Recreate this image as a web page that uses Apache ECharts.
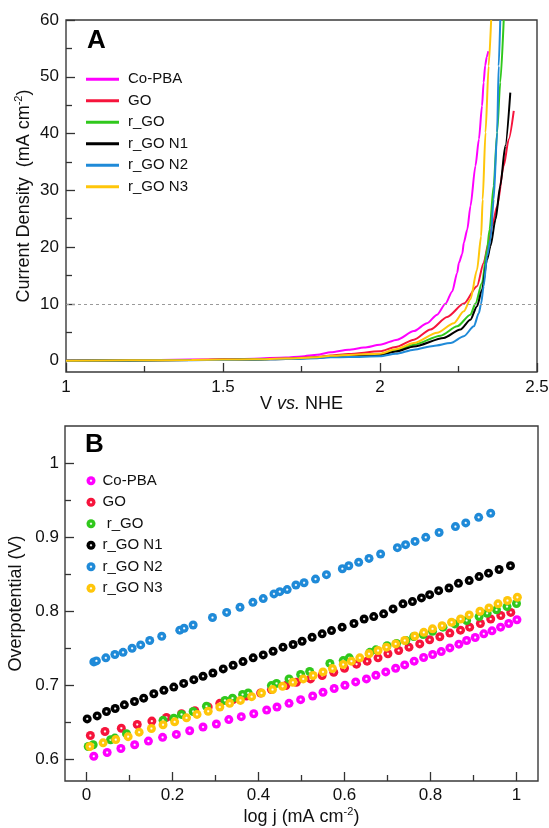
<!DOCTYPE html>
<html>
<head>
<meta charset="utf-8">
<script src="https://cdn.jsdelivr.net/npm/echarts@6/dist/echarts.min.js"></script>
<style>html,body{margin:0;padding:0;background:#fff}#c{width:549px;height:828px}</style>
</head>
<body>
<div id="c"></div>
<script>
// ---------- Panel A : LSV curves (V vs. NHE, mA cm-2) ----------
const vCoPBA = [1.0,1.2,1.4,1.5,1.6,1.7,1.75,1.8,1.843,1.9,1.949,2.0,2.055,2.108,2.15,2.182,2.209,2.23,2.246,2.251,2.262,2.267,2.278,2.288,2.304,2.315,2.325,2.33,2.335,2.34,2.345];
const jCoPBA = [0,0.08,0.18,0.25,0.35,0.55,0.75,1.05,1.47,1.9,2.3,2.8,3.7,5.2,6.6,8.1,10.05,12.2,15.5,17.2,18.8,20.8,23.1,27.2,34.3,39,44.9,49,52,53.5,54.5];
const vGO = [1.0,1.2,1.4,1.5,1.6,1.7,1.8,1.843,1.9,2.0,2.05,2.108,2.161,2.214,2.267,2.309,2.33,2.346,2.357,2.373,2.394,2.41,2.426];
const jGO = [0,0.05,0.12,0.18,0.25,0.38,0.65,0.9,1.15,1.64,2.4,3.7,5.5,7.7,10.05,13.1,17.2,20.8,23.7,27.2,34.3,39,44];
const vRGO = [1.0,1.2,1.4,1.5,1.6,1.7,1.8,1.843,1.9,2.0,2.05,2.108,2.193,2.246,2.288,2.304,2.325,2.341,2.349,2.362,2.373,2.383,2.394];
const jRGO = [0,0.04,0.1,0.15,0.22,0.33,0.55,0.8,0.95,1.1,1.8,2.8,4.4,6.05,8.1,10.05,13.7,19.6,23.1,30.8,40.2,49,60];
const vN1 = [1.0,1.2,1.4,1.5,1.6,1.7,1.8,1.843,1.9,2.0,2.05,2.108,2.203,2.256,2.288,2.309,2.325,2.341,2.352,2.368,2.383,2.399,2.415];
const jN1 = [0,0.04,0.1,0.15,0.2,0.3,0.5,0.72,0.85,1.0,1.6,2.5,4.0,5.5,7.2,9.6,12.5,17.8,20.2,24.9,30.8,37.8,47.2];
const vN2 = [1.0,1.2,1.4,1.5,1.6,1.7,1.8,1.843,1.9,2.0,2.05,2.108,2.17,2.225,2.267,2.299,2.315,2.322,2.33,2.341,2.352,2.362,2.373,2.378,2.383];
const jN2 = [0,0.03,0.08,0.12,0.18,0.27,0.42,0.58,0.65,0.76,1.2,1.94,2.6,3.1,4.3,6.05,8.4,10.05,13.1,18.4,21.4,28.4,40.2,51.9,60];
const vN3 = [1.0,1.2,1.4,1.5,1.6,1.7,1.8,1.843,1.9,2.0,2.05,2.108,2.182,2.235,2.267,2.288,2.309,2.322,2.327,2.336,2.346,2.354];
const jN3 = [0,0.05,0.12,0.18,0.25,0.36,0.6,0.85,1.0,1.23,2.0,3.1,4.9,6.6,8.7,10.8,16,21.9,28.4,40.2,51.9,60];

// ---------- Panel B : Tafel points (log j, overpotential V) ----------
const ljCoPBA = [0.017,0.048,0.080,0.112,0.144,0.177,0.209,0.240,0.271,0.302,0.331,0.360,0.389,0.419,0.443,0.471,0.498,0.526,0.550,0.576,0.601,0.626,0.651,0.673,0.696,0.719,0.740,0.762,0.784,0.805,0.825,0.845,0.866,0.884,0.904,0.924,0.943,0.963,0.982,1.001];
const etaCoPBA = [0.6035,0.6085,0.614,0.619,0.624,0.629,0.633,0.638,0.643,0.647,0.653,0.657,0.661,0.666,0.670,0.675,0.680,0.685,0.690,0.695,0.6995,0.704,0.708,0.713,0.7175,0.7225,0.727,0.732,0.737,0.741,0.745,0.750,0.755,0.760,0.764,0.769,0.773,0.778,0.783,0.788];
const ljGO = [0.009,0.043,0.081,0.118,0.152,0.186,0.221,0.252,0.283,0.310,0.341,0.372,0.405,0.430,0.4636,0.488,0.521,0.548,0.575,0.600,0.628,0.6526,0.678,0.701,0.726,0.750,0.775,0.798,0.8217,0.845,0.8698,0.891,0.916,0.940,0.9635,0.9867];
const etaGO = [0.6315,0.637,0.6414,0.6464,0.651,0.656,0.661,0.665,0.670,0.675,0.680,0.685,0.689,0.6936,0.699,0.7035,0.708,0.7126,0.717,0.7225,0.728,0.732,0.7365,0.742,0.7465,0.751,0.7554,0.761,0.765,0.770,0.774,0.778,0.783,0.789,0.7937,0.798];
const ljRGO = [0.004,0.0155,0.056,0.066,0.093,0.178,0.203,0.221,0.248,0.279,0.322,0.3395,0.363,0.376,0.43,0.442,0.471,0.498,0.519,0.566,0.597,0.611,0.659,0.673,0.699,0.721,0.7426,0.761,0.783,0.8047,0.829,0.8565,0.884,0.913,0.9316,0.9535,0.978,1.0];
const etaRGO = [0.6166,0.619,0.6257,0.628,0.634,0.652,0.655,0.660,0.664,0.671,0.679,0.682,0.687,0.689,0.699,0.702,0.708,0.714,0.718,0.729,0.7328,0.7365,0.744,0.7473,0.753,0.756,0.760,0.7653,0.768,0.7724,0.778,0.7824,0.787,0.7923,0.7968,0.8014,0.8058,0.810];
const ljN1 = [0.0016,0.0248,0.0465,0.0667,0.088,0.1116,0.133,0.1566,0.180,0.203,0.226,0.2496,0.271,0.294,0.318,0.341,0.364,0.3876,0.411,0.434,0.457,0.4805,0.5014,0.5247,0.548,0.5698,0.5945,0.622,0.6456,0.668,0.691,0.713,0.736,0.758,0.779,0.798,0.819,0.843,0.865,0.890,0.913,0.935,0.9595,0.986];
const etaN1 = [0.654,0.658,0.664,0.668,0.673,0.6775,0.682,0.688,0.6927,0.697,0.702,0.707,0.7117,0.716,0.7216,0.7265,0.7315,0.7365,0.7405,0.7455,0.751,0.7545,0.759,0.7643,0.769,0.7734,0.778,0.783,0.789,0.7923,0.796,0.8027,0.8095,0.8126,0.8176,0.822,0.8274,0.831,0.8373,0.841,0.8464,0.851,0.856,0.861];
const ljN2 = [0.017,0.023,0.045,0.066,0.085,0.106,0.126,0.147,0.175,0.217,0.227,0.248,0.293,0.326,0.357,0.387,0.411,0.436,0.4495,0.4667,0.487,0.506,0.5326,0.558,0.595,0.610,0.633,0.657,0.684,0.723,0.742,0.764,0.789,0.820,0.858,0.882,0.912,0.940];
const etaN2 = [0.731,0.7324,0.7365,0.741,0.744,0.7495,0.754,0.760,0.7657,0.774,0.7765,0.781,0.791,0.798,0.805,0.8116,0.8166,0.823,0.826,0.8288,0.835,0.838,0.843,0.849,0.857,0.861,0.8657,0.871,0.877,0.8855,0.8896,0.894,0.8995,0.906,0.914,0.919,0.9265,0.932];
const ljN3 = [0.0077,0.0386,0.068,0.0968,0.1224,0.151,0.178,0.205,0.2326,0.257,0.283,0.310,0.333,0.358,0.384,0.407,0.4326,0.456,0.480,0.504,0.527,0.550,0.572,0.597,0.616,0.6356,0.657,0.678,0.6977,0.719,0.740,0.7635,0.7844,0.8047,0.827,0.849,0.870,0.890,0.915,0.936,0.957,0.979,1.002];
const etaN3 = [0.6166,0.6216,0.626,0.630,0.636,0.641,0.646,0.650,0.6554,0.660,0.6643,0.670,0.675,0.679,0.684,0.689,0.6936,0.698,0.7035,0.708,0.7126,0.7175,0.722,0.7275,0.732,0.7365,0.742,0.7464,0.751,0.7554,0.760,0.766,0.771,0.7757,0.780,0.7846,0.789,0.7946,0.7995,0.804,0.8095,0.814,0.8184];

// ---------- labels / ticks ----------
const namesA = ['Co-PBA','GO','r_GO','r_GO N1','r_GO N2','r_GO N3'];
const namesB = ['Co-PBA','GO',' r_GO','r_GO N1','r_GO N2','r_GO N3'];
const aTickX = [1,1.5,2,2.5];
const aMinorX = [1.25,1.75,2.25];
const aTickY = [0,10,20,30,40,50,60];
const aMinorY = [5,15,25,35,45,55];
const bTickX = [0,0.2,0.4,0.6,0.8,1];
const bMinorX = [0.1,0.3,0.5,0.7,0.9];
const bTickY = [0.6,0.7,0.8,0.9,1];
const bMinorY = [0.65,0.75,0.85,0.95];
const refCurrent = 10;

const colors = ['#ff00ff','#f6143c','#30c81c','#000000','#1f8ad8','#ffc60a'];
const FONT = '"Liberation Sans", Arial, Helvetica, sans-serif';
const TXT = '#111';

function zip(a, b) { return a.map((v, i) => [v, b[i]]); }
function sphere(c) {
  return { type: 'radial', x: 0.5, y: 0.5, r: 0.5, colorStops: [
    { offset: 0, color: '#ffffff' }, { offset: 0.1, color: '#ffffff' },
    { offset: 0.36, color: c }, { offset: 1, color: c } ] };
}
function fmt(v) { return String(parseFloat(v.toFixed(3))); }

const lsv = [[vCoPBA,jCoPBA],[vGO,jGO],[vRGO,jRGO],[vN1,jN1],[vN2,jN2],[vN3,jN3]];
const tafel = [[ljCoPBA,etaCoPBA],[ljGO,etaGO],[ljRGO,etaRGO],[ljN1,etaN1],[ljN2,etaN2],[ljN3,etaN3]];

const tickLine = { color: '#333', width: 1.3 };

function mainAxis(grid, min, max, ticks, fs, margin, extra) {
  return Object.assign({
    type: 'value', gridIndex: grid, min: min, max: max,
    nameMoveOverlap: false,
    axisLine: { show: false, onZero: false },
    splitLine: { show: false },
    axisTick: { show: true, inside: true, length: 9, customValues: ticks, lineStyle: tickLine },
    axisLabel: { show: true, customValues: ticks, formatter: fmt, fontSize: fs, color: TXT, fontFamily: FONT, margin: margin }
  }, extra);
}
function minorAxis(grid, min, max, ticks, extra) {
  return Object.assign({
    type: 'value', gridIndex: grid, min: min, max: max,
    axisLine: { show: false, onZero: false }, splitLine: { show: false },
    axisLabel: { show: false },
    axisTick: { show: true, inside: true, length: 6, customValues: ticks, lineStyle: tickLine }
  }, extra);
}

const series = [];
lsv.forEach((d, i) => {
  const s = {
    type: 'line', name: namesA[i], xAxisIndex: 0, yAxisIndex: 0,
    data: zip(d[0], d[1]), showSymbol: false, symbol: 'none',
    smooth: 0.25, smoothMonotone: 'x',
    lineStyle: { color: colors[i], width: 2 }, itemStyle: { color: colors[i] },
    z: 3
  };
  if (i === 0) {
    s.markLine = { silent: true, symbol: ['none','none'], label: { show: false },
      lineStyle: { color: '#9a9a9a', type: [3, 3], width: 1 },
      data: [{ yAxis: refCurrent }] };
  }
  series.push(s);
});
tafel.forEach((d, i) => {
  series.push({
    type: 'scatter', name: namesB[i], xAxisIndex: 2, yAxisIndex: 2,
    data: zip(d[0], d[1]), symbol: 'circle', symbolSize: 9,
    itemStyle: { color: sphere(colors[i]), opacity: 1 }
  });
});

const nameStyle = (extra) => Object.assign({ fontSize: 18, color: TXT, lineHeight: 22, fontFamily: FONT }, extra);
const supRich = { sup: { fontSize: 11, color: TXT, verticalAlign: 'top', lineHeight: 13, fontFamily: FONT } };

const option = {
  animation: false,
  textStyle: { fontFamily: FONT },
  title: [
    { text: 'A', left: 87, top: 28, padding: 0, textStyle: { fontSize: 26, fontWeight: 'bold', color: '#000', fontFamily: FONT } },
    { text: 'B', left: 85, top: 432, padding: 0, textStyle: { fontSize: 26, fontWeight: 'bold', color: '#000', fontFamily: FONT } }
  ],
  legend: [
    { orient: 'vertical', left: 86, top: 68.5, padding: 0, itemGap: 0, itemWidth: 33, itemHeight: 3,
      selectedMode: false,
      textStyle: { fontSize: 15, color: TXT, lineHeight: 21.5, fontFamily: FONT, padding: [0,0,0,4] },
      data: namesA.map((n, i) => ({ name: n, icon: 'rect', itemStyle: { color: colors[i] } })) },
    { orient: 'vertical', left: 86.5, top: 470, padding: 0, itemGap: 0, itemWidth: 9, itemHeight: 9,
      selectedMode: false,
      textStyle: { fontSize: 15, color: TXT, lineHeight: 21.5, fontFamily: FONT, padding: [0,0,0,2] },
      data: namesB.map((n, i) => ({ name: n, icon: 'circle', itemStyle: { color: sphere(colors[i]) } })) }
  ],
  grid: [
    { left: 66, right: 12, top: 20, bottom: 456, show: true, borderColor: '#3a3a3a', borderWidth: 1.4,
      backgroundColor: 'transparent', containLabel: false, outerBoundsMode: 'none' },
    { left: 65, right: 11, top: 426, bottom: 47, show: true, borderColor: '#3a3a3a', borderWidth: 1.4,
      backgroundColor: 'transparent', containLabel: false, outerBoundsMode: 'none' }
  ],
  xAxis: [
    mainAxis(0, 1, 2.5, aTickX, 17, 7, {
      position: 'bottom',
      name: 'V {i|vs.} NHE', nameLocation: 'middle', nameGap: 21,
      nameTextStyle: nameStyle({ verticalAlign: 'top',
        rich: { i: { fontStyle: 'italic', fontSize: 18, color: TXT, fontFamily: FONT } } }) }),
    minorAxis(0, 1, 2.5, aMinorX, { position: 'bottom' }),
    mainAxis(1, -0.05, 1.05, bTickX, 17, 6, {
      position: 'bottom',
      name: 'log j (mA cm{sup|-2})', nameLocation: 'middle', nameGap: 25,
      nameTextStyle: nameStyle({ verticalAlign: 'top', rich: supRich }) }),
    minorAxis(1, -0.05, 1.05, bMinorX, { position: 'bottom' })
  ],
  yAxis: [
    mainAxis(0, -2, 60, aTickY, 17, 7, {
      position: 'left',
      name: 'Current Density  (mA cm{sup|-2})', nameLocation: 'middle', nameGap: 31,
      nameTextStyle: nameStyle({ rich: supRich }) }),
    minorAxis(0, -2, 60, aMinorY, { position: 'left' }),
    mainAxis(1, 0.57, 1.05, bTickY, 17, 6, {
      position: 'left',
      name: 'Overpotential (V)', nameLocation: 'middle', nameGap: 38,
      nameTextStyle: nameStyle({}) }),
    minorAxis(1, 0.57, 1.05, bMinorY, { position: 'left' })
  ],
  series: series
};

const chart = echarts.init(document.getElementById('c'), null, { renderer: 'canvas' });
chart.setOption(option);
</script>
</body>
</html>
